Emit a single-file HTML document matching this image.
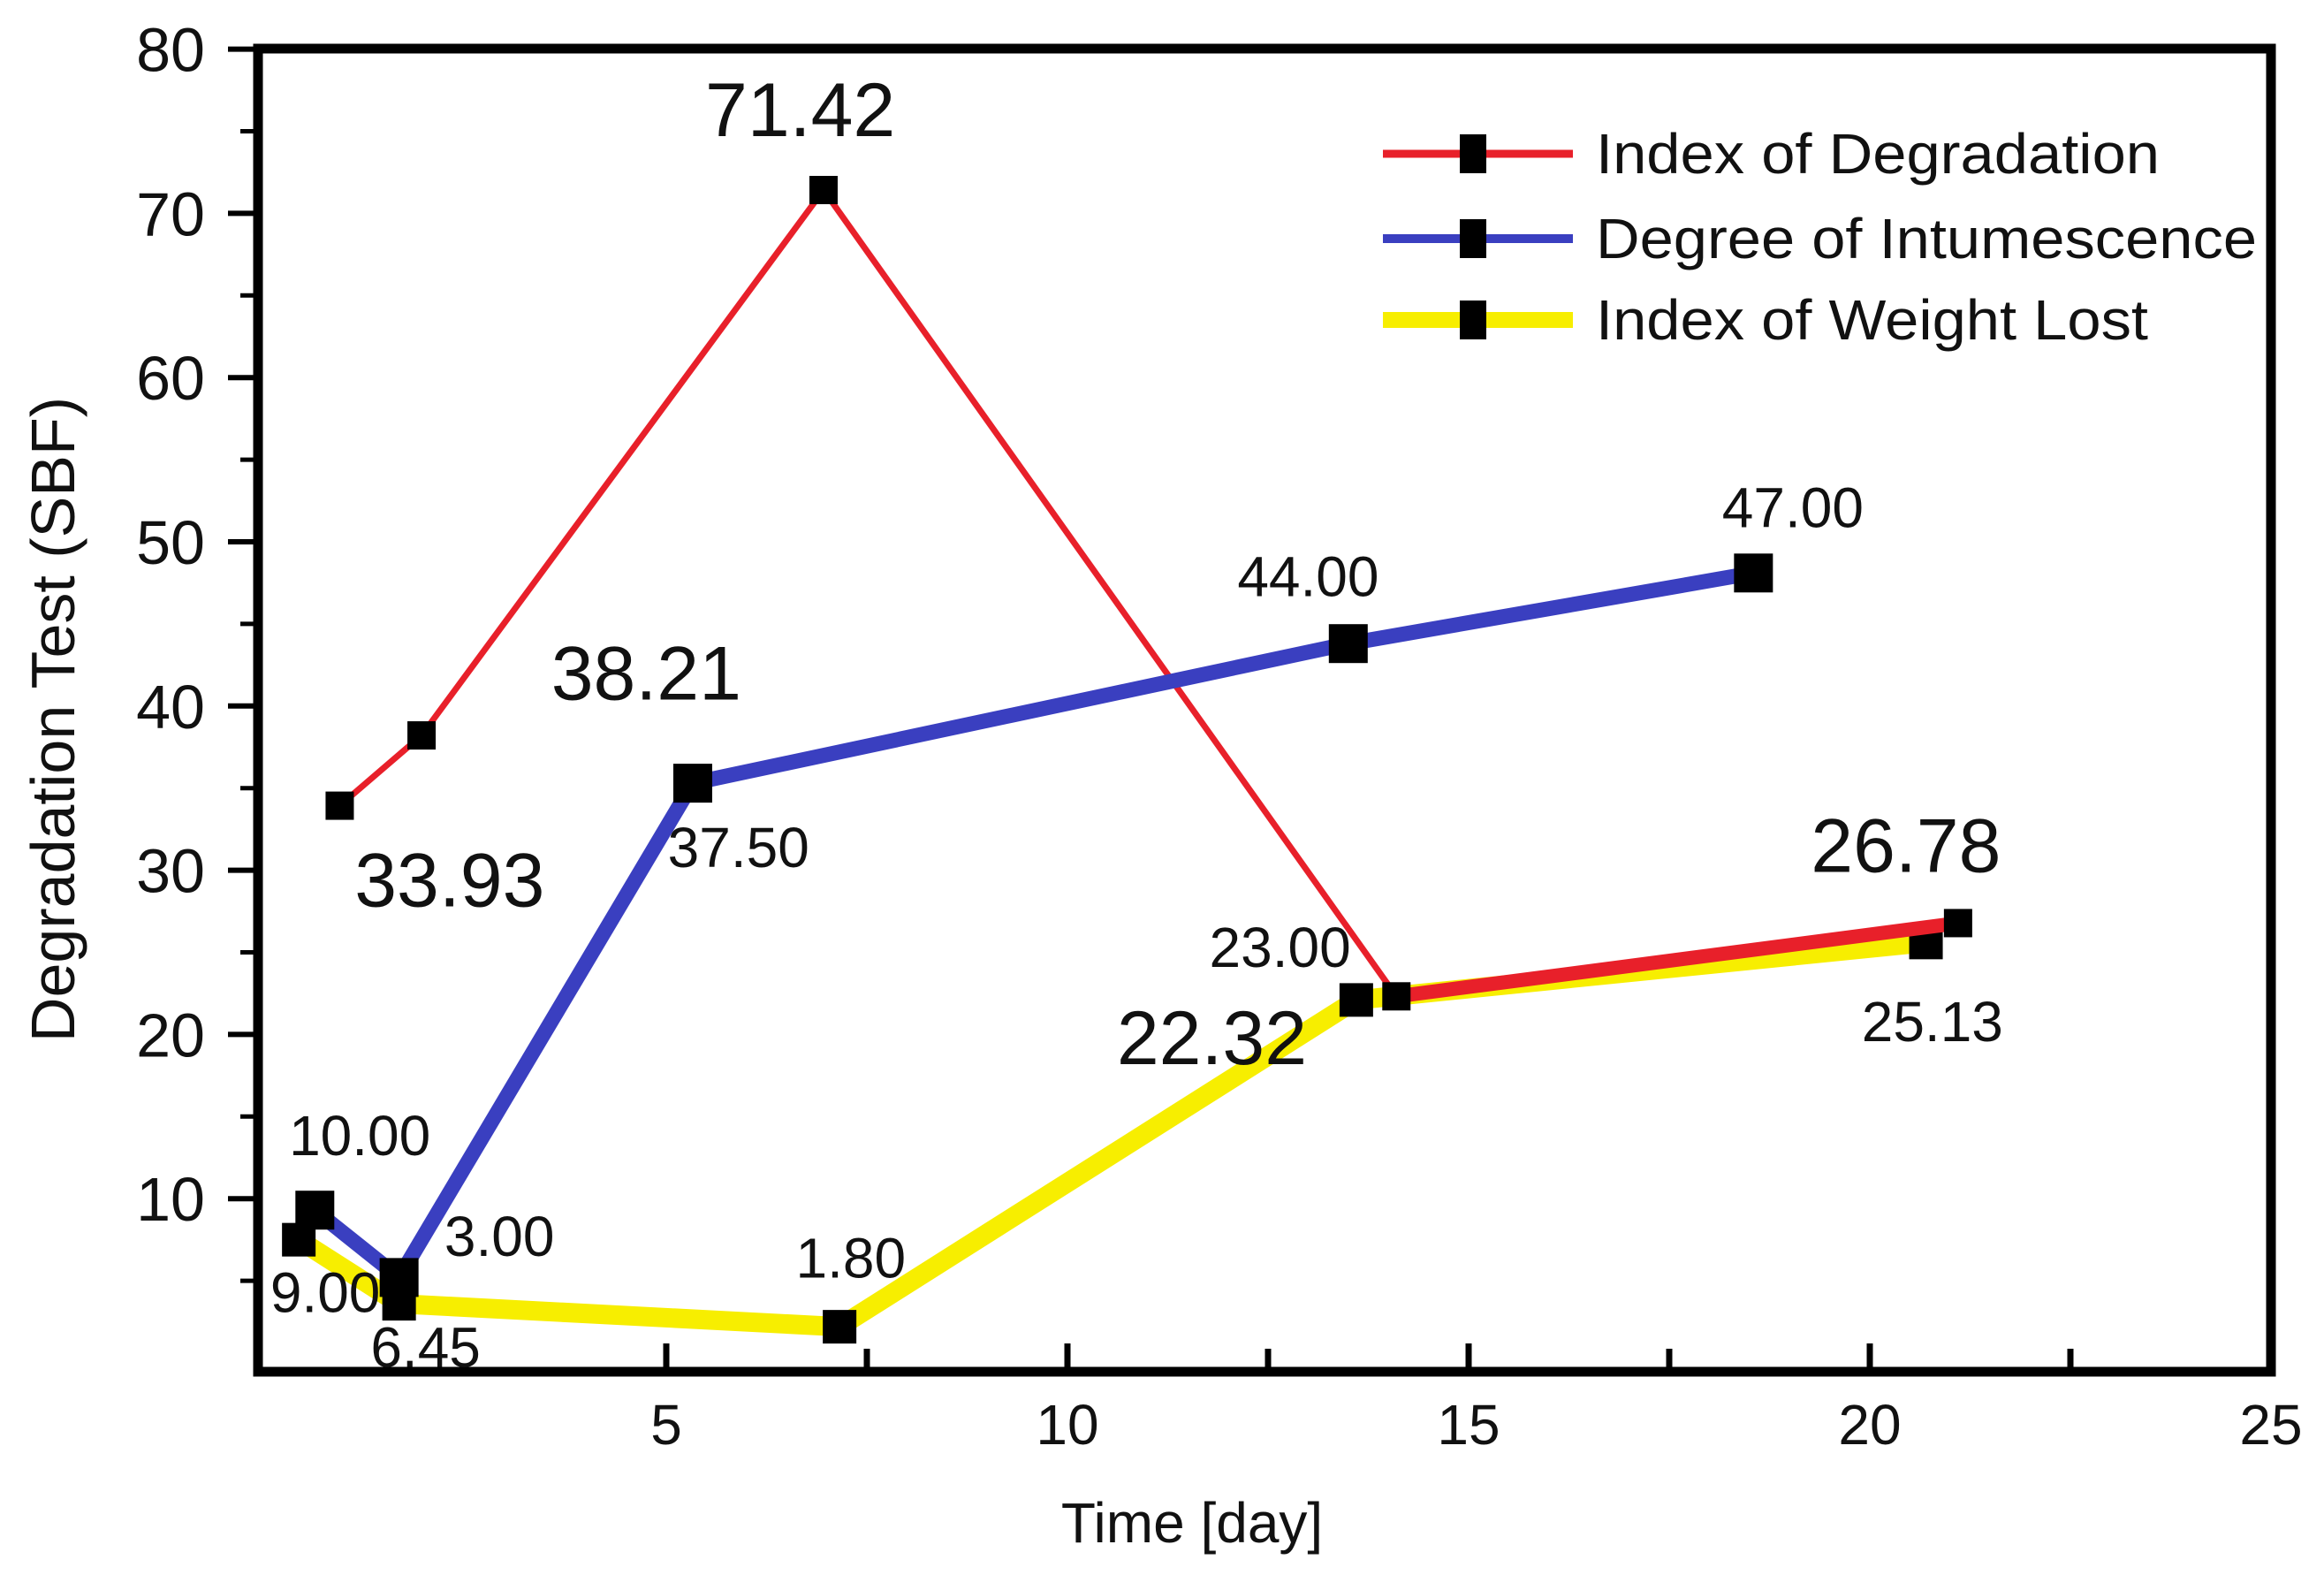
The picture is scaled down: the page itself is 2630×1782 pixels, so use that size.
<!DOCTYPE html>
<html><head><meta charset="utf-8"><style>
html,body{margin:0;padding:0;background:#fff;}
svg{display:block;}
.lbl{font-family:"Liberation Sans Narrow","Liberation Sans",sans-serif;fill:#111;}
</style></head><body>
<svg id="chart" width="2630" height="1782" viewBox="0 0 2630 1782" xmlns="http://www.w3.org/2000/svg">
<rect x="0" y="0" width="2630" height="1782" fill="#fff"/>
<g id="axes"></g>
<g id="series"></g>
<g id="labels"></g>
<g id="legend"></g>
</svg>
<script>
const xTicks = [5, 10, 15, 20, 25];
const xMinor = [7.5, 12.5, 17.5, 22.5];
const yTicks = [10, 20, 30, 40, 50, 60, 70, 80];
const yMinor = [5, 15, 25, 35, 45, 55, 65, 75];
const degX = [0.93, 1.95, 6.96, 14.1, 21.1];
const degY = [33.93, 38.21, 71.42, 22.32, 26.78];
const intX = [0.62, 1.67, 5.33, 13.5, 18.55];
const intY = [9.3, 5.2, 35.3, 43.8, 48.1];
const wlX = [0.42, 1.67, 7.16, 13.6, 20.7];
const wlY = [7.5, 3.6, 2.2, 22.1, 25.6];
const ann = [
 ["71.42",6.67,74.7,"big"],["38.21",4.75,40.4,"big"],["33.93",2.3,27.8,"big"],
 ["26.78",20.45,29.9,"big"],["22.32",11.8,18.2,"big"],
 ["47.00",19.04,50.9,"s"],["44.00",13.0,46.7,"s"],["37.50",5.9,30.2,"s"],
 ["23.00",12.65,24.1,"s"],["25.13",20.78,19.6,"s"],["10.00",1.18,12.65,"s"],
 ["3.00",2.92,6.5,"s"],["1.80",7.3,5.2,"s"],["9.00",0.75,3.1,"s"],["6.45",2.0,-0.25,"s"]
];
const NS="http://www.w3.org/2000/svg";
const X = v => 300 + 90.8*v;
const Y = v => 1542 - 18.58*v;
function mk(tag, attrs, parent){const e=document.createElementNS(NS,tag);for(const k in attrs)e.setAttribute(k,attrs[k]);parent.appendChild(e);return e;}
const axes=document.getElementById('axes');
let f=mk('path',{d:`M292 1552 L292 55 L2570 55 L2570 1552 Z`,fill:'none',stroke:'#000','stroke-width':11},axes);


yTicks.forEach(v=>{
 const t=mk('line',{x1:258,x2:292,y1:Y(v),y2:Y(v),stroke:'#000','stroke-width':6},axes);
 
 
 const l=mk('text',{x:232,y:Y(v)+25,'text-anchor':'end','font-family':'Liberation Sans, sans-serif','font-size':70,fill:'#111'},axes);
 l.textContent=v;
 
 
});
yMinor.forEach(v=>{
 const t=mk('line',{x1:272,x2:292,y1:Y(v),y2:Y(v),stroke:'#000','stroke-width':5},axes);
 
 
});
xTicks.forEach(v=>{
 const t=mk('line',{x1:X(v),x2:X(v),y1:1552,y2:1520,stroke:'#000','stroke-width':7},axes);
 
 
 const l=mk('text',{x:X(v),y:1634,'text-anchor':'middle','class':'lbl','font-size':64},axes);
 l.textContent=v;
 
 
});
xMinor.forEach(v=>{
 const t=mk('line',{x1:X(v),x2:X(v),y1:1552,y2:1526,stroke:'#000','stroke-width':7},axes);
 
 
});
let yt=mk('text',{x:0,y:0,transform:'translate(84,814) rotate(-90)','text-anchor':'middle','font-family':'Liberation Sans, sans-serif','font-size':70,fill:'#111'},axes);
yt.textContent='Degradation Test (SBF)';


let xt=mk('text',{x:1349,y:1745,'text-anchor':'middle','class':'lbl','font-size':64},axes);
xt.textContent='Time [day]';



const series=document.getElementById('series');
function drawSeries(xs,ys,color,widths,msz,name){
 const g=mk('g',{},series);
 
 
 for(let i=0;i<xs.length-1;i++){
  const s=mk('line',{x1:X(xs[i]),y1:Y(ys[i]),x2:X(xs[i+1]),y2:Y(ys[i+1]),stroke:color,'stroke-width':widths[i],'stroke-linecap':'butt'},g);
  
  
 }
 for(let i=0;i<xs.length;i++){
  const m=mk('rect',{x:X(xs[i])-msz/2,y:Y(ys[i])-msz/2,width:msz,height:msz,fill:'#000'},g);
  
  
 }
}
drawSeries(wlX,wlY,'#f7ee00',[22,22,22,22],38,'weight-lost');
drawSeries(degX,degY,'#e8202a',[7,7,7,16],32,'degradation');
drawSeries(intX,intY,'#3a3fc0',[17,17,17,17],44,'intumescence');

const labels=document.getElementById('labels');
ann.forEach(a=>{
 const big=a[3]==='big';
 const t=mk('text',{x:X(a[1]),y:Y(a[2]),'text-anchor':'middle','class':'lbl','font-size':big?86:64},labels);
 t.textContent=a[0];
 
 
});

const legend=document.getElementById('legend');
const legNames=['Index of Degradation','Degree of Intumescence','Index of Weight Lost'];
const legColors=['#e8202a','#3a3fc0','#f7ee00'];
const legW=[9,10,18];
const legY=[174,270,362];
const legLen=[638,748,625];
for(let i=0;i<3;i++){
 const l=mk('line',{x1:1565,x2:1780,y1:legY[i],y2:legY[i],stroke:legColors[i],'stroke-width':legW[i]},legend);
 
 
 const m=mk('rect',{x:1652,y:legY[i]-22,width:30,height:44,fill:'#000'},legend);
 
 
 const t=mk('text',{x:1806,y:legY[i]+22,'class':'lbl','font-size':64,textLength:legLen[i],lengthAdjust:'spacingAndGlyphs'},legend);
 t.textContent=legNames[i];
 
 
}
</script>
</body></html>
